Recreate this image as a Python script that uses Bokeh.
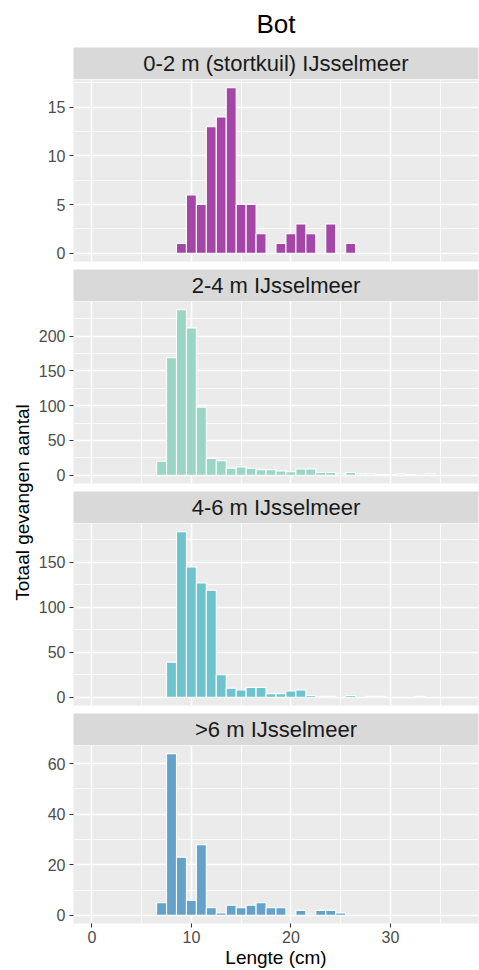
import math
from bokeh.plotting import figure
from bokeh.layouts import row, column
from bokeh.models import Range1d, FixedTicker, Grid, Label, ColumnDataSource
from bokeh.embed import file_html
from bokeh.resources import INLINE

FONT = "Liberation Sans"

title_text = "Bot"
x_label = "Lengte (cm)"
y_label = "Totaal gevangen aantal"

panel_titles = ["0-2 m (stortkuil) IJsselmeer", "2-4 m IJsselmeer", "4-6 m IJsselmeer", ">6 m IJsselmeer"]
panel_colors = ["#A545A7", "#9AD6C5", "#6DC4CF", "#64A2CB"]

# lengths (cm, bin centres) and counts per depth class
len_0_2 = [9, 10, 11, 12, 13, 14, 15, 16, 17, 19, 20, 21, 22, 24, 26]
cnt_0_2 = [1, 6, 5, 13, 14, 17, 5, 5, 2, 1, 2, 3, 2, 3, 1]

len_2_4 = [7, 8, 9, 10, 11, 12, 13, 14, 15, 16, 17, 18, 19, 20, 21, 22, 23, 24, 25, 26, 27, 28, 29, 30, 31, 32, 34]
cnt_2_4 = [20, 169, 238, 212, 98, 24, 21, 10, 12, 10, 8, 8, 6, 5, 9, 9, 4, 4, 2, 4, 2, 2, 1, 1, 2, 1, 2]

len_4_6 = [8, 9, 10, 11, 12, 13, 14, 15, 16, 17, 18, 19, 20, 21, 22, 23, 24, 26, 28, 29, 33]
cnt_4_6 = [39, 184, 145, 127, 119, 25, 10, 8, 11, 11, 4, 4, 7, 8, 2, 1, 1, 2, 1, 1, 1]

len_6p = [7, 8, 9, 10, 11, 12, 13, 14, 15, 16, 17, 18, 19, 21, 23, 24, 25]
cnt_6p = [5, 64, 23, 6, 28, 3, 1, 4, 3, 4, 5, 3, 3, 2, 2, 2, 1]

x_ticks = [0, 10, 20, 30]
x_minor = [5, 15, 25, 35]

y_ticks = [[0, 5, 10, 15], [0, 50, 100, 150, 200], [0, 50, 100, 150], [0, 20, 40, 60]]
y_minor = [[2.5, 7.5, 12.5, 17.5], [25, 75, 125, 175, 225], [25, 75, 125, 175], [10, 30, 50, 70]]

lengths = [len_0_2, len_2_4, len_4_6, len_6p]
counts = [cnt_0_2, cnt_2_4, cnt_4_6, cnt_6p]

X_RANGE = (-1.85, 38.85)
YLAB_W = 35
LEFT = 38
FIG_W = 479 - YLAB_W
FRAME_H = 182


def style_grid(g):
    g.grid_line_color = "white"
    g.grid_line_width = 1.5
    g.minor_grid_line_color = "white"
    g.minor_grid_line_width = 0.8


def panel(i, last):
    ymax = max(counts[i])
    bottom = 43 if last else 8
    p = figure(width=FIG_W, height=FRAME_H + bottom,
               x_range=Range1d(*X_RANGE),
               y_range=Range1d(-0.05 * ymax, 1.05 * ymax),
               x_axis_type="linear" if last else None,
               output_backend="svg", toolbar_location=None,
               min_border_left=LEFT, min_border_right=1,
               min_border_top=0, min_border_bottom=bottom)
    p.background_fill_color = "#EBEBEB"
    p.border_fill_color = "white"
    p.outline_line_color = None

    # y axis
    yax = p.yaxis[0]
    yax.ticker = FixedTicker(ticks=y_ticks[i], minor_ticks=y_minor[i])
    yax.axis_line_color = None
    yax.major_tick_line_color = "#333333"
    yax.major_tick_out = 4
    yax.major_tick_in = 0
    yax.minor_tick_line_color = None
    yax.major_label_text_font = FONT
    yax.major_label_text_font_size = "16px"
    yax.major_label_text_color = "#4D4D4D"
    yax.major_label_standoff = 4
    style_grid(p.ygrid[0])

    if last:
        xax = p.xaxis[0]
        xax.ticker = FixedTicker(ticks=x_ticks, minor_ticks=x_minor)
        xax.axis_line_color = None
        xax.major_tick_line_color = "#333333"
        xax.major_tick_out = 4
        xax.major_tick_in = 0
        xax.minor_tick_line_color = None
        xax.major_label_text_font = FONT
        xax.major_label_text_font_size = "16px"
        xax.major_label_text_color = "#4D4D4D"
        xax.major_label_standoff = 3
        xax.axis_label = x_label
        xax.axis_label_text_font = FONT
        xax.axis_label_text_font_size = "19px"
        xax.axis_label_text_font_style = "normal"
        xax.axis_label_text_color = "black"
        xax.axis_label_standoff = 1
        style_grid(p.xgrid[0])
    else:
        g = Grid(dimension=0, ticker=FixedTicker(ticks=x_ticks, minor_ticks=x_minor))
        style_grid(g)
        p.add_layout(g)

    src = ColumnDataSource(dict(x=lengths[i], top=counts[i]))
    p.vbar(x="x", top="top", bottom=0, width=1.0, source=src,
           fill_color=panel_colors[i], line_color="white", line_width=1.1)
    return p


def strip(text):
    s = figure(width=FIG_W, height=32, x_range=Range1d(0, 1), y_range=Range1d(0, 1),
               x_axis_type=None, y_axis_type=None,
               output_backend="svg", toolbar_location=None,
               min_border_left=LEFT, min_border_right=1, min_border_top=0, min_border_bottom=0)
    s.background_fill_color = "#D9D9D9"
    s.border_fill_color = "white"
    s.outline_line_color = None
    s.add_layout(Label(x=0.5, y=0.5, text=text, text_align="center", text_baseline="middle",
                       text_font=FONT, text_font_size="22px", text_color="#1A1A1A"))
    return s


title_fig = figure(width=FIG_W, height=47, x_range=Range1d(0, 1), y_range=Range1d(0, 47),
                   x_axis_type=None, y_axis_type=None,
                   output_backend="svg", toolbar_location=None,
                   min_border_left=LEFT, min_border_right=1, min_border_top=0, min_border_bottom=0)
title_fig.background_fill_color = "white"
title_fig.border_fill_color = "white"
title_fig.outline_line_color = None
title_fig.add_layout(Label(x=0.5, y=24, text=title_text, text_align="center", text_baseline="middle",
                           text_font=FONT, text_font_size="26px", text_color="black"))

items = [title_fig]
for i in range(4):
    items.append(strip(panel_titles[i]))
    items.append(panel(i, i == 3))

col = column(*items, spacing=0)

ylab_fig = figure(width=YLAB_W, height=970, x_range=Range1d(0, YLAB_W), y_range=Range1d(0, 970),
                  x_axis_type=None, y_axis_type=None,
                  output_backend="svg", toolbar_location=None,
                  min_border_left=0, min_border_right=0, min_border_top=0, min_border_bottom=0)
ylab_fig.background_fill_color = "white"
ylab_fig.border_fill_color = "white"
ylab_fig.outline_line_color = None
ylab_fig.add_layout(Label(x=22, y=970 - 502, text=y_label, angle=math.pi / 2, text_align="center",
                          text_baseline="middle", text_font=FONT, text_font_size="19px", text_color="black"))

layout = row(ylab_fig, col, spacing=0)

open("out.html", "w").write(file_html(layout, INLINE))
